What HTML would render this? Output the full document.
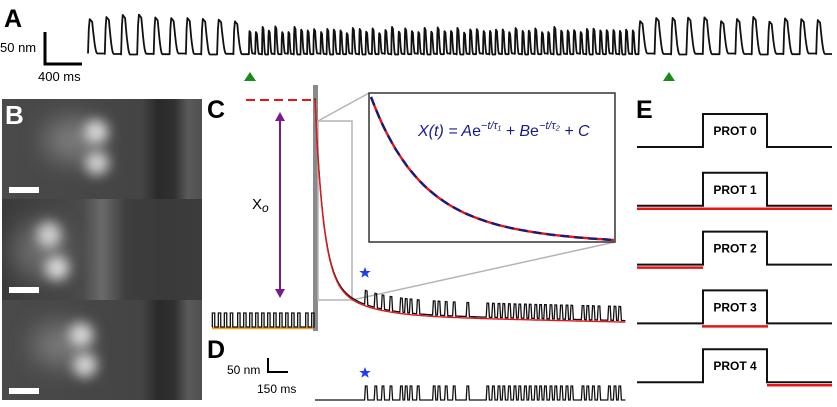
<!DOCTYPE html>
<html><head><meta charset="utf-8"><style>
html,body{margin:0;padding:0;background:#fff}
svg{display:block;font-family:"Liberation Sans",Arial,sans-serif}
</style></head><body>
<svg id="fig" width="837" height="407" viewBox="0 0 837 407" xmlns="http://www.w3.org/2000/svg">
<defs>
<filter id="blur6" x="-50%" y="-50%" width="200%" height="200%"><feGaussianBlur stdDeviation="6"/></filter>
<filter id="blur12" x="-50%" y="-50%" width="200%" height="200%"><feGaussianBlur stdDeviation="12"/></filter>
<linearGradient id="bandg" x1="0" x2="1" y1="0" y2="0">
<stop offset="0" stop-color="#4a4a4a"/><stop offset="0.7" stop-color="#444"/><stop offset="0.78" stop-color="#2a2a2a"/><stop offset="0.86" stop-color="#303030"/><stop offset="0.93" stop-color="#5a5a5a"/><stop offset="1" stop-color="#505050"/>
</linearGradient>
<linearGradient id="bandg2" x1="0" x2="1" y1="0" y2="0">
<stop offset="0" stop-color="#3a3a3a"/><stop offset="0.4" stop-color="#4a4a4a"/><stop offset="0.5" stop-color="#6a6a6a"/><stop offset="0.62" stop-color="#3e3e3e"/><stop offset="0.8" stop-color="#3a3a3a"/><stop offset="1" stop-color="#3c3c3c"/>
</linearGradient>
<clipPath id="c1"><rect x="2" y="99" width="200" height="100"/></clipPath>
<clipPath id="c2"><rect x="2" y="199" width="200" height="101"/></clipPath>
<clipPath id="c3"><rect x="2" y="300" width="200" height="100"/></clipPath>
</defs>

<text x="4" y="27" font-size="25" font-weight="bold">A</text>
<text x="207" y="118" font-size="25" font-weight="bold">C</text>
<text x="207" y="358" font-size="25" font-weight="bold">D</text>
<text x="636" y="118" font-size="25" font-weight="bold">E</text>

<g>
<path d="M45,32 V64 H82" fill="none" stroke="#000" stroke-width="3"/>
<text x="0" y="52" font-size="13">50 nm</text>
<text x="38" y="81" font-size="13">400 ms</text>
</g>
<path d="M244,81 L250,72 L256,81 Z" fill="#1a8a1a"/>
<path d="M663,81 L669,72 L675,81 Z" fill="#1a8a1a"/>
<g id="traceA"></g>

<g>
<g clip-path="url(#c1)">
<rect x="2" y="99" width="200" height="100" fill="url(#bandg)"/>
<ellipse cx="72" cy="140" rx="28" ry="22" fill="#7a7a7a" filter="url(#blur12)"/>
<ellipse cx="96" cy="132" rx="12" ry="12" fill="#d8d8d8" filter="url(#blur6)"/>
<ellipse cx="97" cy="163" rx="12" ry="12" fill="#d0d0d0" filter="url(#blur6)"/>
<rect x="9" y="187" width="30" height="6" fill="#fff"/>
</g>
<g clip-path="url(#c2)">
<rect x="2" y="199" width="200" height="101" fill="url(#bandg2)"/>
<ellipse cx="40" cy="250" rx="28" ry="28" fill="#6a6a6a" filter="url(#blur12)"/>
<ellipse cx="49" cy="235" rx="12" ry="13" fill="#d0d0d0" filter="url(#blur6)"/>
<ellipse cx="57" cy="268" rx="12" ry="12" fill="#dadada" filter="url(#blur6)"/>
<rect x="9" y="287" width="30" height="6" fill="#fff"/>
</g>
<g clip-path="url(#c3)">
<rect x="2" y="300" width="200" height="100" fill="url(#bandg)"/>
<ellipse cx="60" cy="345" rx="28" ry="22" fill="#777" filter="url(#blur12)"/>
<ellipse cx="81" cy="335" rx="12" ry="12" fill="#d8d8d8" filter="url(#blur6)"/>
<ellipse cx="85" cy="365" rx="12" ry="12" fill="#d6d6d6" filter="url(#blur6)"/>
<rect x="9" y="388" width="30" height="6" fill="#fff"/>
</g>
<text x="5" y="124" font-size="26" font-weight="bold" fill="#fff">B</text>
</g>

<line x1="246" y1="100" x2="315" y2="100" stroke="#e8141a" stroke-width="2" stroke-dasharray="9,5"/>
<rect x="313" y="85" width="5" height="246" fill="#8a8a8a"/>
<g>
<line x1="280" y1="120" x2="280" y2="290" stroke="#7b1a8a" stroke-width="2"/>
<path d="M275,121 L280,112 L285,121 Z" fill="#7b1a8a"/>
<path d="M275,289 L280,298 L285,289 Z" fill="#7b1a8a"/>
</g>
<text x="252" y="209" font-size="15">X<tspan font-style="italic" font-size="12" dy="3">o</tspan></text>
<rect x="318" y="121" width="34" height="179" fill="none" stroke="#b4b4b4" stroke-width="1.5"/>
<line x1="318" y1="121" x2="369" y2="93" stroke="#b4b4b4" stroke-width="1.5"/>
<line x1="352" y1="300" x2="615" y2="242" stroke="#b4b4b4" stroke-width="1.5"/>
<line x1="212" y1="328" x2="313" y2="328" stroke="#f0a020" stroke-width="2.5"/>
<g id="traceC"></g>
<path d="M361,267 l1.5,4 4.3,0 -3.4,2.5 1.3,4.2 -3.7,-2.5 -3.7,2.5 1.3,-4.2 -3.4,-2.5 4.3,0z" transform="translate(4,0)" fill="#1e3cf0"/>

<rect x="369" y="93" width="246" height="149" fill="#fff" stroke="#333" stroke-width="1.5"/>
<g id="inset"></g>
<text x="418" y="136" font-size="16" font-style="italic" fill="#1a1a8c">X(t) = A<tspan font-style="normal">e</tspan><tspan font-size="11" dy="-7">−t/τ₁</tspan><tspan dy="7"> + B</tspan><tspan font-style="normal">e</tspan><tspan font-size="11" dy="-7">−t/τ₂</tspan><tspan dy="7"> + C</tspan></text>

<g>
<path d="M268,358 V372 H288" fill="none" stroke="#000" stroke-width="2"/>
<text x="227" y="374" font-size="12">50 nm</text>
<text x="257" y="393" font-size="12">150 ms</text>
</g>
<g id="traceD"></g>
<path d="M361,367 l1.5,4 4.3,0 -3.4,2.5 1.3,4.2 -3.7,-2.5 -3.7,2.5 1.3,-4.2 -3.4,-2.5 4.3,0z" transform="translate(4,0)" fill="#1e3cf0"/>

<g id="panelE"></g>
</svg>
<script>
// ---- Panel A data: cycle periods (ms) and amplitudes ----
const periodsA = [175,170,168,172,165,170,160,165,170,162,
66,70,64,68,72,66,62,70,68,66,74,64,68,70,66,62,72,68,66,70,64,68,72,66,70,68,64,70,66,72,
68,66,70,64,68,72,66,62,70,68,66,74,64,68,70,66,62,72,68,66,70,64,68,72,66,70,68,64,70,66,
168,172,160,170,175,165,170,168,162,170,172,165];
const ampA = [36,37,38,40,36,37,36,34,35,32,
24,22,26,24,27,23,22,26,25,23,26,22,24,25,23,22,26,24,23,25,22,24,26,23,25,24,22,25,23,26,
24,23,25,22,24,26,23,22,25,24,23,26,22,24,25,23,22,26,24,23,25,22,24,26,23,25,24,22,25,23,
34,36,35,37,36,34,35,36,33,35,36,34];
// ---- Panel C/D data: pulse onset times (ms, relative to stimulus) ----
const pulsesC = [375,450,502,562,637,675,712,765,885,922,975,1035,1140,1290,1330,1370,1410,1450,1490,1530,1570,1605,1645,1685,1720,1760,1800,1840,1880,1920,2000,2040,2080,2120,2200,2240,2280];
const pulsesPre = [-770,-725,-680,-635,-580,-535,-490,-445,-400,-355,-310,-265,-220,-175,-130,-70,-25];
const fitParams = [170, 60, 45, 250, 315, 7]; // A, tau1, B, tau2, C, drift
const protocols = ["PROT 0","PROT 1","PROT 2","PROT 3","PROT 4"];
const highlight = [null,"all","pre","step","post"];

const NS="http://www.w3.org/2000/svg";
function mk(tag,attrs,parent){const e=document.createElementNS(NS,tag);for(const k in attrs)e.setAttribute(k,attrs[k]);parent.appendChild(e);return e;}

// cycle shape: fraction of amplitude raised at phase s in [0,1]
function cycleShape(s){
  if(s<0.1){const u=s/0.1;return Math.sin(u*Math.PI/2);}          // fast rise
  if(s<0.25){return 1-0.08*(s-0.1)/0.15;}                           // slight top droop
  if(s<0.55){const u=(s-0.25)/0.3;return 0.92*(1-Math.sin(u*Math.PI/2));} // fall
  return 0;
}
(function(){
  const total=periodsA.reduce((a,b)=>a+b,0);
  const x0=88,x1=832; const xs=t=>x0+(t/total)*(x1-x0);
  const bottom=54;
  let d="",t=0;
  periodsA.forEach((p,i)=>{
    const a=ampA[i];
    const jit=((i*7)%5-2)*0.8;
    for(let k=0;k<=20;k++){
      const s=k/20;
      const y=bottom+jit*0.3-(a+jit)*cycleShape(s);
      d+=((i===0&&k===0)?"M":"L")+xs(t+p*s).toFixed(1)+","+y.toFixed(1);
    }
    t+=p;
  });
  const el=mk("path",{d:d,fill:"none",stroke:"#111","stroke-width":"1.8","stroke-linejoin":"round"},document.getElementById("traceA"));
  
  
})();

const xC=t=>315+t/7.5;
const amp=14, pw=18;
function baseC(t){const [A,t1,B,t2,C,dr]=fitParams;return C+dr*(t/2300)-A*Math.exp(-t/t1)-B*Math.exp(-t/t2);}
(function(){
  const g=document.getElementById("traceC");
  let d="M212,327";
  pulsesPre.forEach(t=>{const x=xC(t);d+=`L${x},327L${x},313L${x+pw/7.5},313L${x+pw/7.5},327`;});
  d+="L313,327";
  const pre=mk("path",{d:d,fill:"none",stroke:"#111","stroke-width":"1.3"},g);
  
  
  let f="";
  for(let t=0;t<=2330;t+=8){f+=(t===0?"M":"L")+xC(t).toFixed(1)+","+baseC(t).toFixed(1);}
  let b="";
  for(let t=0;t<=2330;t+=6){
    let y=baseC(t)-1.5;
    pulsesC.forEach(p=>{if(t>=p&&t<p+pw)y-=amp;});
    b+=(t===0?"M":"L")+xC(t).toFixed(1)+","+y.toFixed(1);
  }
  const blk=mk("path",{d:b,fill:"none",stroke:"#111","stroke-width":"1.3"},g);
  
  
  const red=mk("path",{d:f,fill:"none",stroke:"#e8141a","stroke-width":"1.4"},g);
  
  
  const gd=document.getElementById("traceD");
  let dd="";
  for(let t=0;t<=2330;t+=6){
    let y=400;
    pulsesC.forEach(p=>{if(t>=p&&t<p+pw)y-=amp;});
    dd+=(t===0?"M":"L")+xC(t).toFixed(1)+","+y.toFixed(1);
  }
  const dp=mk("path",{d:dd,fill:"none",stroke:"#111","stroke-width":"1.3"},gd);
  
  
})();

(function(){
  const g=document.getElementById("inset");
  const fn=u=>0.8*Math.exp(-u/0.2)+0.2*Math.exp(-u/0.7);
  const f0=fn(0),f1=fn(1);
  let d="";
  for(let k=0;k<=60;k++){const u=k/60;const v=(fn(u)-f1)/(f0-f1);d+=(k?"L":"M")+(371+u*243).toFixed(1)+","+(240-v*143).toFixed(1);}
  const r=mk("path",{d:d,fill:"none",stroke:"#e8141a","stroke-width":"2.4"},g);
  
  
  const b=mk("path",{d:d,fill:"none",stroke:"#1a1a7a","stroke-width":"2.4","stroke-dasharray":"9,5"},g);
  
  
})();

(function(){
  const g=document.getElementById("panelE");
  protocols.forEach((lab,i)=>{
    const base=147+i*58.8, topY=base-33;
    const gg=mk("g",{},g);
    
    
    const h=highlight[i];
    const rs={stroke:"#e8141a","stroke-width":"2.5"};
    if(h==="all")mk("line",Object.assign({x1:637,y1:base+3,x2:832,y2:base+3},rs),gg);
    if(h==="pre")mk("line",Object.assign({x1:637,y1:base+3,x2:703,y2:base+3},rs),gg);
    if(h==="step")mk("line",Object.assign({x1:702,y1:base+3,x2:768,y2:base+3},rs),gg);
    if(h==="post")mk("line",Object.assign({x1:767,y1:base+3,x2:832,y2:base+3},rs),gg);
    mk("path",{d:`M637,${base}H703V${topY}H767V${base}H832`,fill:"none",stroke:"#111","stroke-width":"2"},gg);
    const t=mk("text",{x:735,y:base-12,"font-size":"12","font-weight":"bold","text-anchor":"middle"},gg);
    t.textContent=lab;
  });
})();
</script>
</body></html>
